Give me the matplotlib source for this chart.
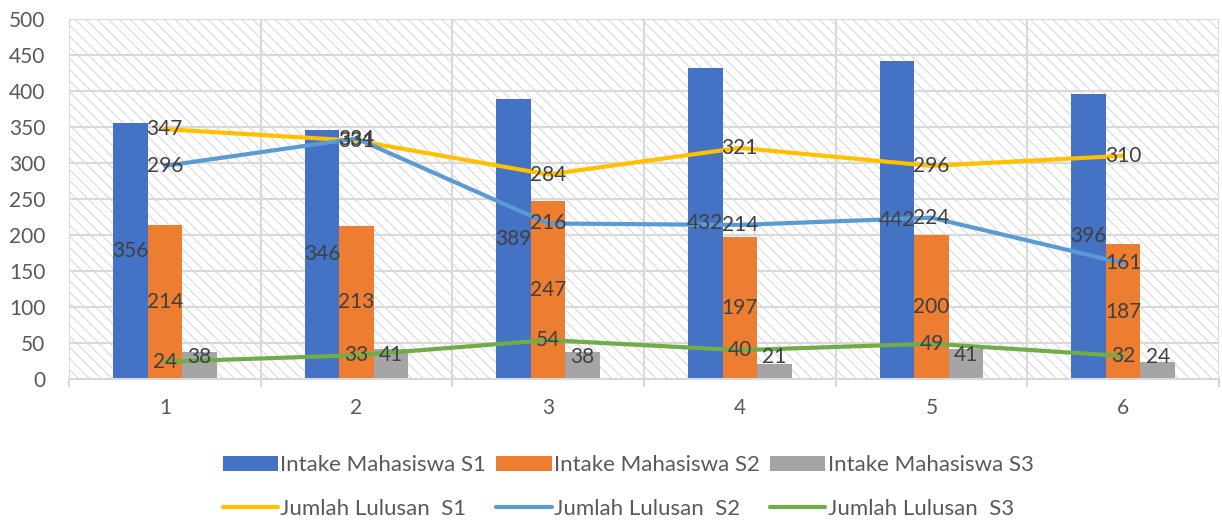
import numpy as np
import matplotlib
matplotlib.use("Agg")
import matplotlib.pyplot as plt
from matplotlib.patches import Rectangle

plt.rcParams['font.family'] = ['Lato', 'DejaVu Sans']
plt.rcParams['hatch.linewidth'] = 0.8

# data
categories = ['1', '2', '3', '4', '5', '6']
intake_s1 = [356, 346, 389, 432, 442, 396]
intake_s2 = [214, 213, 247, 197, 200, 187]
intake_s3 = [38, 41, 38, 21, 41, 24]
lulusan_s1 = [347, 331, 284, 321, 296, 310]
lulusan_s2 = [296, 334, 216, 214, 224, 161]
lulusan_s3 = [24, 33, 54, 40, 49, 32]

bar_names = ['Intake Mahasiswa S1', 'Intake Mahasiswa S2', 'Intake Mahasiswa S3']
line_names = ['Jumlah Lulusan  S1', 'Jumlah Lulusan  S2', 'Jumlah Lulusan  S3']
bar_colors = ['#4472C4', '#ED7D31', '#A5A5A5']
line_colors = ['#FFC000', '#5B9BD5', '#70AD47']

GRID = '#d9d9d9'
TXT = '#404040'
FS = 15

fig = plt.figure(figsize=(12.22, 5.23), dpi=100)
ax = fig.add_axes([69 / 1222, 1 - 379 / 523, 1150 / 1222, 360 / 523])

# hatched plot area background
bg = Rectangle((0, 0), 1, 1, transform=ax.transAxes, facecolor='white',
               edgecolor='#dadada', hatch='\\\\\\', lw=0, zorder=0)
ax.add_patch(bg)
ax.patch.set_visible(False)

x = np.arange(1, len(categories) + 1)
w = 0.18
bar_series = [intake_s1, intake_s2, intake_s3]
line_series = [lulusan_s1, lulusan_s2, lulusan_s3]

handles = []
for i, (vals, name, col) in enumerate(zip(bar_series, bar_names, bar_colors)):
    b = ax.bar(x + (i - 1) * w, vals, width=w, color=col, label=name, zorder=2)
    handles.append(b)

line_handles = []
for vals, name, col in zip(line_series, line_names, line_colors):
    ln, = ax.plot(x, vals, color=col, lw=3, label=name, zorder=3,
                  solid_capstyle='round')
    line_handles.append(ln)

# data labels
for i, vals in enumerate(bar_series):
    for xi, v in zip(x, vals):
        if i == 2:
            yl = max(v - 8, 31)
        else:
            yl = v / 2
        ax.text(xi + (i - 1) * w, yl, str(v), ha='center', va='center',
                fontsize=FS, color=TXT, zorder=5)
for vals in line_series:
    for xi, v in zip(x, vals):
        ax.text(xi, v, str(v), ha='center', va='center', fontsize=FS,
                color=TXT, zorder=5)

ax.set_xlim(0.5, len(categories) + 0.5)
ax.set_ylim(0, 500)
ax.set_yticks(np.arange(0, 501, 50))
ax.set_xticks(x)
ax.set_xticklabels(categories)
ax.set_xticks(np.arange(0.5, len(categories) + 1, 1), minor=True)

ax.grid(axis='y', which='major', color=GRID, lw=1.5)
ax.grid(axis='x', which='minor', color=GRID, lw=1.5)
ax.set_axisbelow(True)

for s in ['top', 'right', 'left']:
    ax.spines[s].set_visible(False)
ax.spines['bottom'].set_color(GRID)
ax.spines['bottom'].set_linewidth(1.5)

ax.tick_params(axis='y', length=0, pad=17, labelsize=FS, labelcolor='#595959')
ax.tick_params(axis='x', which='major', length=0, pad=14, labelsize=FS,
               labelcolor='#595959')
ax.tick_params(axis='x', which='minor', length=6, width=1.5, color=GRID)

order = [handles[0], line_handles[0], handles[1], line_handles[1],
         handles[2], line_handles[2]]
labels = [bar_names[0], line_names[0], bar_names[1], line_names[1],
          bar_names[2], line_names[2]]
leg = fig.legend(order, labels, loc='center', bbox_to_anchor=(0.514, 0.069),
                 ncol=3, frameon=False, fontsize=16, handlelength=2.5,
                 handletextpad=0.1, columnspacing=0.45, labelspacing=1.06)
for t in leg.get_texts():
    t.set_color('#595959')

fig.savefig('out.png', dpi=100)
